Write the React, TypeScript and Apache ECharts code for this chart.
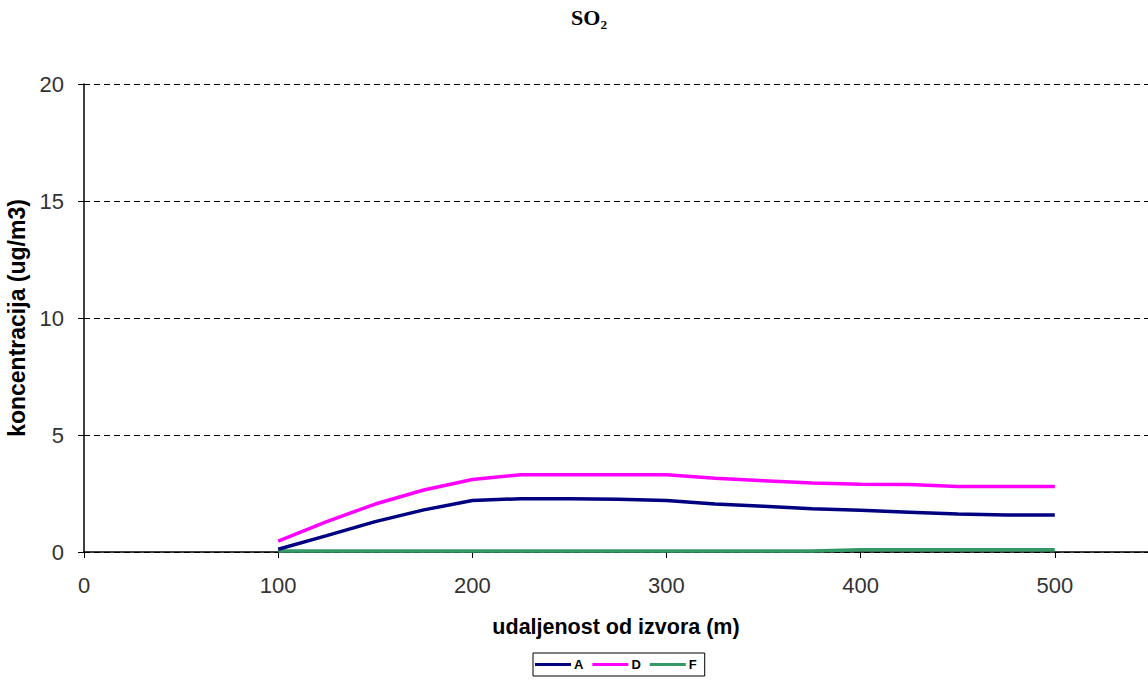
import React, { useEffect, useRef } from "react";
import * as echarts from "echarts";

const distances = [100, 125, 150, 175, 200, 225, 250, 275, 300, 325, 350, 375, 400, 425, 450, 475, 500];
const seriesA = [0.12, 0.7, 1.3, 1.8, 2.2, 2.28, 2.28, 2.25, 2.2, 2.05, 1.95, 1.85, 1.78, 1.7, 1.62, 1.58, 1.58];
const seriesD = [0.47, 1.3, 2.05, 2.65, 3.1, 3.3, 3.3, 3.3, 3.3, 3.15, 3.05, 2.95, 2.9, 2.88, 2.8, 2.8, 2.8];
const seriesF = [0.04, 0.04, 0.04, 0.04, 0.04, 0.04, 0.04, 0.04, 0.04, 0.04, 0.04, 0.04, 0.1, 0.1, 0.1, 0.1, 0.1];
const seriesNames = ["A", "D", "F"];
const colors = ["#000080", "#FF00FF", "#339966"];

export default function App() {
  const ref = useRef<HTMLDivElement>(null);
  useEffect(() => {
    if (!ref.current) return;
    const chart = echarts.init(ref.current, null, { renderer: "svg" });
    const all = [seriesA, seriesD, seriesF];
    chart.setOption({
      animation: false,
      backgroundColor: "#fff",
      textStyle: { fontFamily: "Liberation Sans" },
      title: {
        text: "SO₂",
        left: 584,
        top: 1,
        textAlign: "center",
        textStyle: { fontSize: 22, fontWeight: "bold", color: "#000", fontFamily: "Liberation Serif" },
      },
      legend: {
        data: seriesNames,
        left: 533,
        top: 653,
        padding: [5, 8, 5, 2],
        borderColor: "#000",
        borderWidth: 1,
        itemWidth: 36,
        itemHeight: 3,
        itemGap: 9,
        icon: "rect",
        textStyle: { fontSize: 13, fontWeight: "bold", color: "#000", padding: [0, 0, 0, -2] },
      },
      grid: { left: 84, right: 0, top: 84, bottom: 130, containLabel: false, outerBoundsMode: "none" },
      xAxis: {
        type: "value",
        min: 0,
        max: 548,
        interval: 100,
        name: "udaljenost od izvora (m)",
        nameLocation: "middle",
        nameGap: 64,
        nameTextStyle: { fontSize: 21.5, fontWeight: "bold", color: "#000" },
        axisLine: { lineStyle: { color: "#000", width: 1.5 } },
        axisTick: { lineStyle: { color: "#000" }, length: 6 },
        axisLabel: {
          fontSize: 22,
          color: "#333",
          margin: 22,
          formatter: (v: number) => (v % 100 === 0 ? String(v) : ""),
        },
        splitLine: { show: false },
      },
      yAxis: {
        type: "value",
        min: 0,
        max: 20,
        interval: 5,
        name: "koncentracija (ug/m3)",
        nameLocation: "middle",
        nameGap: 52,
        nameTextStyle: { fontSize: 23, fontWeight: "bold", color: "#000" },
        axisLine: { show: true, lineStyle: { color: "#000", width: 1.5 } },
        axisTick: { show: true, lineStyle: { color: "#000" }, length: 6 },
        axisLabel: { fontSize: 22, color: "#333", margin: 20 },
        splitLine: { show: true, lineStyle: { color: "#000", type: [6, 4], width: 1 } },
      },
      series: seriesNames.map((name, i) => ({
        name,
        type: "line",
        data: distances.map((x, j) => [x, all[i][j]]),
        showSymbol: false,
        symbol: "none",
        lineStyle: { color: colors[i], width: 3.5 },
        itemStyle: { color: colors[i] },
        z: 3 - i,
      })),
    });
    return () => chart.dispose();
  }, []);
  return <div ref={ref} style={{ position: "fixed", left: 0, top: 0, width: 1148, height: 682 }} />;
}
